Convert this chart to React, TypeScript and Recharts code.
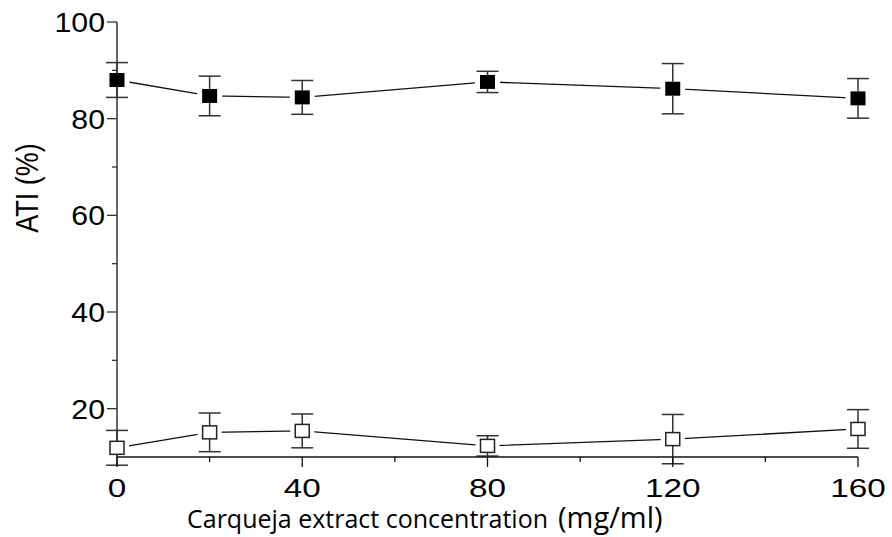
import { LineChart, Line, XAxis, YAxis, ErrorBar, Label } from 'recharts'

// concentrations (mg/ml)
const concentrations = [0, 20, 40, 80, 120, 160]

// upper series (filled squares)
const filledMean = [88.0, 84.7, 84.4, 87.6, 86.2, 84.2]
const filledErr = [3.6, 4.1, 3.5, 2.2, 5.2, 4.1]

// lower series (open squares)
const openMean = [11.9, 15.1, 15.4, 12.3, 13.7, 15.8]
const openErr = [3.6, 4.0, 3.5, 2.1, 5.1, 4.0]

const yMajor = [20, 40, 60, 80, 100]
const yMinor = [30, 50, 70, 90]
const xMajor = [0, 40, 80, 120, 160]
const xMinor = [20, 60, 100, 140]

const data = concentrations.map((c, i) => ({
  conc: c,
  filled: filledMean[i],
  filledErr: filledErr[i],
  open: openMean[i],
  openErr: openErr[i],
}))

const tickFont = 'Liberation Sans, Arial, sans-serif'

function YTick({ x, y, payload }: any) {
  const major = yMajor.includes(payload.value)
  return (
    <g>
      <line x1={x} x2={x - (major ? 10 : 5)} y1={y} y2={y} stroke="#333" strokeWidth={1.3} />
      {major && (
        <text
          transform={`translate(${x - 12},${y + 10}) scale(1.08,1)`}
          textAnchor="end"
          fontSize={28}
          fontFamily={tickFont}
          fill="#000"
        >
          {payload.value}
        </text>
      )}
    </g>
  )
}

function XTick({ x, y, payload }: any) {
  const major = xMajor.includes(payload.value)
  return (
    <g>
      <line x1={x} x2={x} y1={y} y2={y + (major ? 10 : 5)} stroke="#111" strokeWidth={1.3} />
      {major && (
        <text
          transform={`translate(${x},${y + 40}) scale(1.28,1)`}
          textAnchor="middle"
          fontSize={26}
          fontFamily={tickFont}
          fill="#000"
        >
          {payload.value}
        </text>
      )}
    </g>
  )
}

// square markers; the white strip behind cuts the line short of the marker
const filledDot = (props: any) => {
  const { cx, cy, index } = props
  if (cx == null || cy == null) return <g key={`f-${index}`} />
  return (
    <g key={`f-${index}`}>
      <rect x={cx - 12.5} y={cy - 7} width={25} height={14} fill="#fff" />
      <rect x={cx - 7.5} y={cy - 7} width={15} height={14} fill="#000" />
    </g>
  )
}

const openDot = (props: any) => {
  const { cx, cy, index } = props
  if (cx == null || cy == null) return <g key={`o-${index}`} />
  return (
    <g key={`o-${index}`}>
      <rect x={cx - 12} y={cy - 6.5} width={24} height={13} fill="#fff" />
      <rect x={cx - 7} y={cy - 6.5} width={14} height={13} fill="#fff" stroke="#222" strokeWidth={1.5} />
    </g>
  )
}

export default function App() {
  return (
    <div style={{ position: 'absolute', left: 0, top: 0, background: '#fff' }}>
      <style>{'.recharts-wrapper [clip-path]{clip-path:none !important}'}</style>
      <LineChart width={892} height={537} data={data} margin={{ top: 22, right: 34, left: 0, bottom: 0 }}>
        <XAxis
          dataKey="conc"
          type="number"
          domain={[0, 160]}
          ticks={[...xMajor, ...xMinor]}
          interval={0}
          height={80}
          tickSize={0}
          tickMargin={0}
          tickLine={false}
          tick={<XTick />}
          axisLine={{ stroke: '#111', strokeWidth: 1.5 }}
        >
          <Label
            content={() => (
              <text x={187} y={528} fill="#000" fontFamily="Open Sans, Noto Sans, sans-serif">
                <tspan fontSize={25}>Carqueja extract concentration</tspan>
                <tspan fontSize={29} dx={10}>(mg/ml)</tspan>
              </text>
            )}
          />
        </XAxis>
        <YAxis
          type="number"
          domain={[10, 100]}
          allowDataOverflow
          ticks={[...yMajor, ...yMinor]}
          interval={0}
          width={117}
          tickSize={0}
          tickMargin={0}
          tickLine={false}
          tick={<YTick />}
          axisLine={{ stroke: '#333', strokeWidth: 1.5 }}
        >
          <Label
            content={() => (
              <text
                transform="translate(38,188) rotate(-90) scale(1,1.19)"
                textAnchor="middle"
                fontSize={27}
                fontFamily={tickFont}
                fill="#000"
              >
                ATI (%)
              </text>
            )}
          />
        </YAxis>
        <Line
          dataKey="filled"
          type="linear"
          stroke="#111"
          strokeWidth={1.3}
          dot={filledDot}
          activeDot={false}
          isAnimationActive={false}
        >
          <ErrorBar dataKey="filledErr" direction="y" width={11} stroke="#333" strokeWidth={1.5} isAnimationActive={false} />
        </Line>
        <Line
          dataKey="open"
          type="linear"
          stroke="#111"
          strokeWidth={1.3}
          dot={openDot}
          activeDot={false}
          isAnimationActive={false}
        >
          <ErrorBar dataKey="openErr" direction="y" width={11} stroke="#333" strokeWidth={1.5} isAnimationActive={false} />
        </Line>
      </LineChart>
    </div>
  )
}
